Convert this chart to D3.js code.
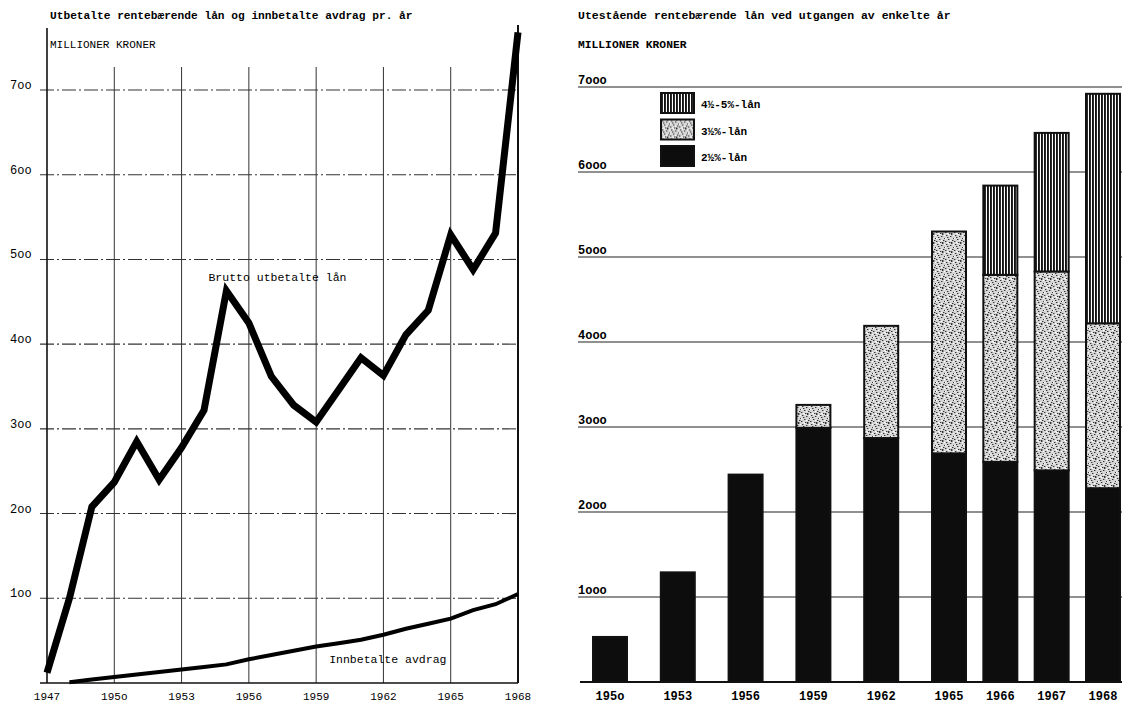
<!DOCTYPE html>
<html>
<head>
<meta charset="utf-8">
<script src="https://cdn.jsdelivr.net/npm/d3@7"></script>
<style>
    body { margin: 0; background: #fff; }
    text { font-family: "Liberation Mono", "DejaVu Sans Mono", monospace; fill: #000; }
</style>
</head>
<body>
<div id="chart"></div>
<script>
// venstre diagram: utbetalte lån og innbetalte avdrag pr. år
var years = [1947, 1948, 1949, 1950, 1951, 1952, 1953, 1954, 1955, 1956, 1957,
    1958, 1959, 1960, 1961, 1962, 1963, 1964, 1965, 1966, 1967, 1968];
var brutto = [12, 100, 208, 237, 285, 240, 278, 322, 463, 425, 362,
    328, 308, 346, 384, 363, 411, 440, 529, 488, 531, 768];
var avdragYears = [1948, 1949, 1950, 1951, 1952, 1953, 1954, 1955, 1956, 1957, 1958,
    1959, 1960, 1961, 1962, 1963, 1964, 1965, 1966, 1967, 1968];
var avdrag = [1, 4, 7, 10, 13, 16, 19, 22, 28, 33, 38,
    43, 47, 51, 57, 64, 70, 76, 86, 93, 105];
var leftYTicks = [100, 200, 300, 400, 500, 600, 700];
var leftYLabels = ["1oo", "2oo", "3oo", "4oo", "5oo", "6oo", "7oo"];
var leftXTicks = [1947, 1950, 1953, 1956, 1959, 1962, 1965, 1968];
var leftXLabels = ["1947", "195o", "1953", "1956", "1959", "1962", "1965", "1968"];

// høyre diagram: utestående lån ved utgangen av året
var barYears = [1950, 1953, 1956, 1959, 1962, 1965, 1966, 1967, 1968];
var barLabels = ["195o", "1953", "1956", "1959", "1962", "1965", "1966", "1967", "1968"];
var lan25 = [530, 1290, 2440, 2990, 2870, 2690, 2590, 2490, 2280];
var lan35 = [0, 0, 0, 270, 1320, 2610, 2200, 2340, 1940];
var lan45 = [0, 0, 0, 0, 0, 0, 1050, 1630, 2700];
var rightYTicks = [1000, 2000, 3000, 4000, 5000, 6000, 7000];
var rightYLabels = ["1ooo", "2ooo", "3ooo", "4ooo", "5ooo", "6ooo", "7ooo"];
var legendKeys = ["l45", "l35", "l25"];
var legendLabels = ["4½-5%-lån", "3½%-lån", "2½%-lån"];

(() => {
    var width = 1122;
    var height = 704;

    var svg = d3.select("#chart")
        .append("svg")
        .attr("width", width)
        .attr("height", height);

    // mønstre for søylene
    var defs = svg.append("defs");
    var stripes = defs.append("pattern")
        .attr("id", "stripes")
        .attr("patternUnits", "userSpaceOnUse")
        .attr("width", 3)
        .attr("height", 10);
    stripes.append("rect").attr("width", 3).attr("height", 10).attr("fill", "#fff");
    stripes.append("rect").attr("width", 1.9).attr("height", 10).attr("fill", "#111");

    var mottled = defs.append("pattern")
        .attr("id", "mottled")
        .attr("patternUnits", "userSpaceOnUse")
        .attr("width", 9)
        .attr("height", 9);
    mottled.append("rect").attr("width", 9).attr("height", 9).attr("fill", "#d6d6d6");
    [[1, 1], [5, 2], [3, 5], [7, 6], [0, 7], [6, 0], [4, 8], [2, 3], [8, 4], [6, 8]].forEach(function (p) {
        mottled.append("rect")
            .attr("x", p[0]).attr("y", p[1])
            .attr("width", 1.4).attr("height", 1)
            .attr("fill", "#333");
    });
    [[3, 0], [8, 1], [0, 4], [5, 6], [2, 8]].forEach(function (p) {
        mottled.append("rect")
            .attr("x", p[0]).attr("y", p[1])
            .attr("width", 1.2).attr("height", 1)
            .attr("fill", "#fff");
    });

    var fills = { l25: "#0d0d0d", l35: "url(#mottled)", l45: "url(#stripes)" };

    // ---------------- venstre diagram ----------------
    var xScale = d3.scaleLinear()
        .domain([1947, 1968])
        .range([47, 518]);

    var yScale = d3.scaleLinear()
        .domain([0, 700])
        .range([683, 90]);

    svg.append("text")
        .attr("x", 50)
        .attr("y", 19)
        .attr("font-size", "11.2px")
        .attr("font-weight", "bold")
        .text("Utbetalte rentebærende lån og innbetalte avdrag pr. år");

    svg.append("text")
        .attr("x", 50)
        .attr("y", 48)
        .attr("font-size", "11px")
        .text("MILLIONER KRONER");

    // horisontale hjelpelinjer (strek-prikk)
    svg.selectAll(".hgrid")
        .data(leftYTicks)
        .join("line")
        .attr("class", "hgrid")
        .attr("x1", 40)
        .attr("x2", xScale(1968))
        .attr("y1", function (d) { return yScale(d); })
        .attr("y2", function (d) { return yScale(d); })
        .attr("stroke", "#333")
        .attr("stroke-width", 1.1)
        .attr("stroke-dasharray", "14,3,2,3");

    // loddrette hjelpelinjer
    svg.selectAll(".vgrid")
        .data(leftXTicks.slice(1, -1))
        .join("line")
        .attr("class", "vgrid")
        .attr("x1", function (d) { return xScale(d); })
        .attr("x2", function (d) { return xScale(d); })
        .attr("y1", 67)
        .attr("y2", yScale(0))
        .attr("stroke", "#333")
        .attr("stroke-width", 1);

    // akser
    svg.append("line")
        .attr("x1", xScale(1947)).attr("x2", xScale(1947))
        .attr("y1", 28).attr("y2", yScale(0))
        .attr("stroke", "#111").attr("stroke-width", 1.6);
    svg.append("line")
        .attr("x1", xScale(1968)).attr("x2", xScale(1968))
        .attr("y1", 25).attr("y2", yScale(0))
        .attr("stroke", "#111").attr("stroke-width", 2);
    svg.append("line")
        .attr("x1", 40).attr("x2", xScale(1968))
        .attr("y1", yScale(0)).attr("y2", yScale(0))
        .attr("stroke", "#111").attr("stroke-width", 1.6);

    svg.selectAll(".ylab-left")
        .data(leftYTicks)
        .join("text")
        .attr("class", "ylab-left")
        .attr("x", 10)
        .attr("y", function (d) { return yScale(d) - 1; })
        .attr("font-size", "12px")
        .attr("font-family", "Liberation Serif, serif")
        .text(function (d, i) { return leftYLabels[i]; });

    svg.selectAll(".xlab-left")
        .data(leftXTicks)
        .join("text")
        .attr("class", "xlab-left")
        .attr("x", function (d) { return xScale(d); })
        .attr("y", 700)
        .attr("text-anchor", "middle")
        .attr("font-size", "11px")
        .text(function (d, i) { return leftXLabels[i]; });

    var line = d3.line()
        .x(function (d) { return xScale(d[0]); })
        .y(function (d) { return yScale(d[1]); });

    svg.append("path")
        .datum(d3.zip(years, brutto))
        .attr("d", line)
        .attr("fill", "none")
        .attr("stroke", "#000")
        .attr("stroke-width", 7)
        .attr("stroke-linejoin", "miter");

    svg.append("path")
        .datum(d3.zip(avdragYears, avdrag))
        .attr("d", line)
        .attr("fill", "none")
        .attr("stroke", "#000")
        .attr("stroke-width", 4);

    svg.append("text")
        .attr("x", xScale(1955) - 18)
        .attr("y", yScale(475))
        .attr("font-size", "11.5px")
        .text("Brutto utbetalte lån");

    svg.append("text")
        .attr("x", xScale(1959) + 13)
        .attr("y", yScale(24))
        .attr("font-size", "11.5px")
        .text("Innbetalte avdrag");

    // ---------------- høyre diagram ----------------
    var xBar = d3.scaleLinear()
        .domain([1950, 1965, 1968])
        .range([610, 949, 1103]);
    var barWidth = 34;

    var yBar = d3.scaleLinear()
        .domain([0, 7000])
        .range([682, 87]);

    svg.append("text")
        .attr("x", 578)
        .attr("y", 19)
        .attr("font-size", "11.5px")
        .attr("font-weight", "bold")
        .text("Utestående rentebærende lån ved utgangen av enkelte år");

    svg.append("text")
        .attr("x", 578)
        .attr("y", 48)
        .attr("font-size", "11.3px")
        .attr("font-weight", "bold")
        .text("MILLIONER KRONER");

    svg.selectAll(".hgrid-right")
        .data(rightYTicks)
        .join("line")
        .attr("class", "hgrid-right")
        .attr("x1", 578)
        .attr("x2", width)
        .attr("y1", function (d) { return yBar(d); })
        .attr("y2", function (d) { return yBar(d); })
        .attr("stroke", "#222")
        .attr("stroke-width", 1.1);

    svg.selectAll(".ylab-right")
        .data(rightYTicks)
        .join("text")
        .attr("class", "ylab-right")
        .attr("x", 578)
        .attr("y", function (d) { return yBar(d) - 3; })
        .attr("font-size", "12px")
        .attr("font-weight", "bold")
        .text(function (d, i) { return rightYLabels[i]; });

    svg.append("line")
        .attr("x1", 580).attr("x2", width)
        .attr("y1", yBar(0)).attr("y2", yBar(0))
        .attr("stroke", "#111").attr("stroke-width", 2);

    var barData = barYears.map(function (y, i) {
        return { year: y, l25: lan25[i], l35: lan35[i], l45: lan45[i] };
    });

    var stack = d3.stack().keys(["l25", "l35", "l45"]);
    var series = stack(barData);

    svg.selectAll(".serie")
        .data(series)
        .join("g")
        .attr("class", "serie")
        .attr("fill", function (s) { return fills[s.key]; })
        .selectAll("rect")
        .data(function (s) { return s.filter(function (d) { return d[1] > d[0]; }); })
        .join("rect")
        .attr("x", function (d) { return xBar(d.data.year) - barWidth / 2; })
        .attr("y", function (d) { return yBar(d[1]); })
        .attr("width", barWidth)
        .attr("height", function (d) { return yBar(d[0]) - yBar(d[1]); })
        .attr("stroke", "#111")
        .attr("stroke-width", 2);

    svg.selectAll(".xlab-right")
        .data(barYears)
        .join("text")
        .attr("class", "xlab-right")
        .attr("x", function (d) { return xBar(d); })
        .attr("y", 700)
        .attr("text-anchor", "middle")
        .attr("font-size", "12px")
        .attr("font-weight", "bold")
        .text(function (d, i) { return barLabels[i]; });

    // tegnforklaring
    var legend = svg.selectAll(".legend")
        .data(legendKeys)
        .join("g")
        .attr("class", "legend")
        .attr("transform", function (d, i) { return "translate(661," + (93 + i * 26.5) + ")"; });

    legend.append("rect")
        .attr("width", 33)
        .attr("height", 20)
        .attr("fill", function (d) { return fills[d]; })
        .attr("stroke", "#111")
        .attr("stroke-width", 2);

    legend.append("text")
        .attr("x", 40)
        .attr("y", 15)
        .attr("font-size", "11px")
        .attr("font-weight", "bold")
        .text(function (d, i) { return legendLabels[i]; });
})();
</script>
</body>
</html>
